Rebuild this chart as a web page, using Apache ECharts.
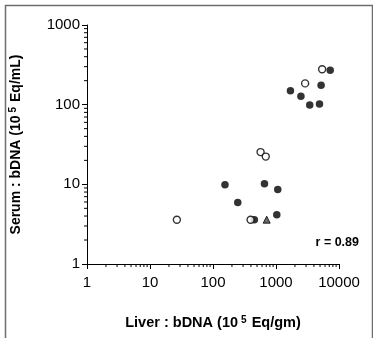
<!DOCTYPE html>
<html><head><meta charset="utf-8">
<script src="https://cdn.jsdelivr.net/npm/echarts@6/dist/echarts.min.js"></script>
<style>html,body{margin:0;padding:0;background:#fff}#c{width:373px;height:338px}</style>
</head><body><div id="c"></div>
<script>
// Data: [liver (x), serum (y)]
var filledPts = [[1695,149],[2485,128],[3430,99],[4900,102],[5200,175],[7250,270],
  [155,9.9],[247,5.9],[656,10.2],[1066,8.6],[1029,4.15],[453,3.6]];
var openPts = [[5400,278],[2900,185],[569,25.4],[688,22.3],[26.7,3.6],[395,3.6]];
var trianglePts = [[712,3.6]];
var xTickLabels = ['1','10','100','1000','10000'];
var yTickLabels = ['1','10','100','1000'];
var rText = 'r = 0.89';

// minor tick positions
var xMinor = [], yMinor = [];
for (var d = 1; d < 10000; d *= 10) for (var k = 2; k <= 9; k++) xMinor.push(d * k);
for (var d2 = 1; d2 < 1000; d2 *= 10) for (var k2 = 2; k2 <= 9; k2++) yMinor.push(d2 * k2);

var font = 'Liberation Sans, Arial, sans-serif';
var chart = echarts.init(document.getElementById('c'));
chart.setOption({
  animation: false,
  backgroundColor: '#fff',
  grid: {left: 81, right: 34, top: 25, bottom: 74},
  xAxis: {
    type: 'log', logBase: 10, min: 1, max: 10000,
    axisLine: {lineStyle: {color: '#000', width: 1}},
    axisTick: {length: 5, lineStyle: {color: '#000'}},
    splitLine: {show: false},
    axisLabel: {color: '#000', fontSize: 15, fontFamily: font, margin: 11,
      formatter: function (v) { var i = Math.round(Math.log10(v)); return xTickLabels[i]; }},
    name: '{b|Liver : bDNA (10}{s|5}{b| Eq/gm)}',
    nameLocation: 'middle', nameGap: 51,
    nameTextStyle: {rich: {
      b: {fontSize: 14.5, fontWeight: 'bold', fontFamily: font, color: '#000'},
      s: {fontSize: 10, fontWeight: 'bold', fontFamily: font, color: '#000', verticalAlign: 'top', padding: [0, 1, 6, 3]}
    }}
  },
  yAxis: {
    type: 'log', logBase: 10, min: 1, max: 1000,
    axisLine: {show: true, lineStyle: {color: '#000', width: 1}},
    axisTick: {show: true, length: 5, lineStyle: {color: '#000'}},
    splitLine: {show: false},
    axisLabel: {color: '#000', fontSize: 15, fontFamily: font, margin: 7,
      formatter: function (v) { var i = Math.round(Math.log10(v)); return yTickLabels[i]; }},
    name: '{b|Serum : bDNA (10}{s|5}{b| Eq/mL)}',
    nameLocation: 'middle', nameGap: 63, nameRotate: 90,
    nameTextStyle: {rich: {
      b: {fontSize: 14, fontWeight: 'bold', fontFamily: font, color: '#000'},
      s: {fontSize: 10, fontWeight: 'bold', fontFamily: font, color: '#000', verticalAlign: 'top', padding: [0, 1, 6, 3]}
    }}
  },
  graphic: [
    {type: 'rect', left: 3, top: 3, shape: {width: 367, height: 345},
     style: {fill: 'none', stroke: '#6e6e6e', lineWidth: 1.5}, silent: true},
    {type: 'text', right: 14, top: 236, style: {text: rText, fill: '#000',
      font: 'bold 12.5px ' + font}}
  ],
  series: [
    {type: 'custom', coordinateSystem: 'cartesian2d', silent: true,
     data: xMinor.map(function (v) { return [v, 1]; }),
     renderItem: function (params, api) {
       var p = api.coord([api.value(0), 1]);
       return {type: 'line', shape: {x1: p[0], y1: p[1], x2: p[0], y2: p[1] + 3},
         style: {stroke: '#000', lineWidth: 1}};
     }},
    {type: 'custom', coordinateSystem: 'cartesian2d', silent: true,
     data: yMinor.map(function (v) { return [1, v]; }),
     renderItem: function (params, api) {
       var p = api.coord([1, api.value(1)]);
       return {type: 'line', shape: {x1: p[0], y1: p[1], x2: p[0] - 3, y2: p[1]},
         style: {stroke: '#000', lineWidth: 1}};
     }},
    {type: 'scatter', data: filledPts, symbol: 'circle', symbolSize: 7.5,
     itemStyle: {color: '#000'}},
    {type: 'scatter', data: openPts, symbol: 'circle', symbolSize: 7,
     itemStyle: {color: '#fff', borderColor: '#000', borderWidth: 1.4}},
    {type: 'scatter', data: trianglePts, symbol: 'triangle', symbolSize: 7,
     itemStyle: {color: '#444', borderColor: '#000', borderWidth: 1}}
  ]
});
</script></body></html>
